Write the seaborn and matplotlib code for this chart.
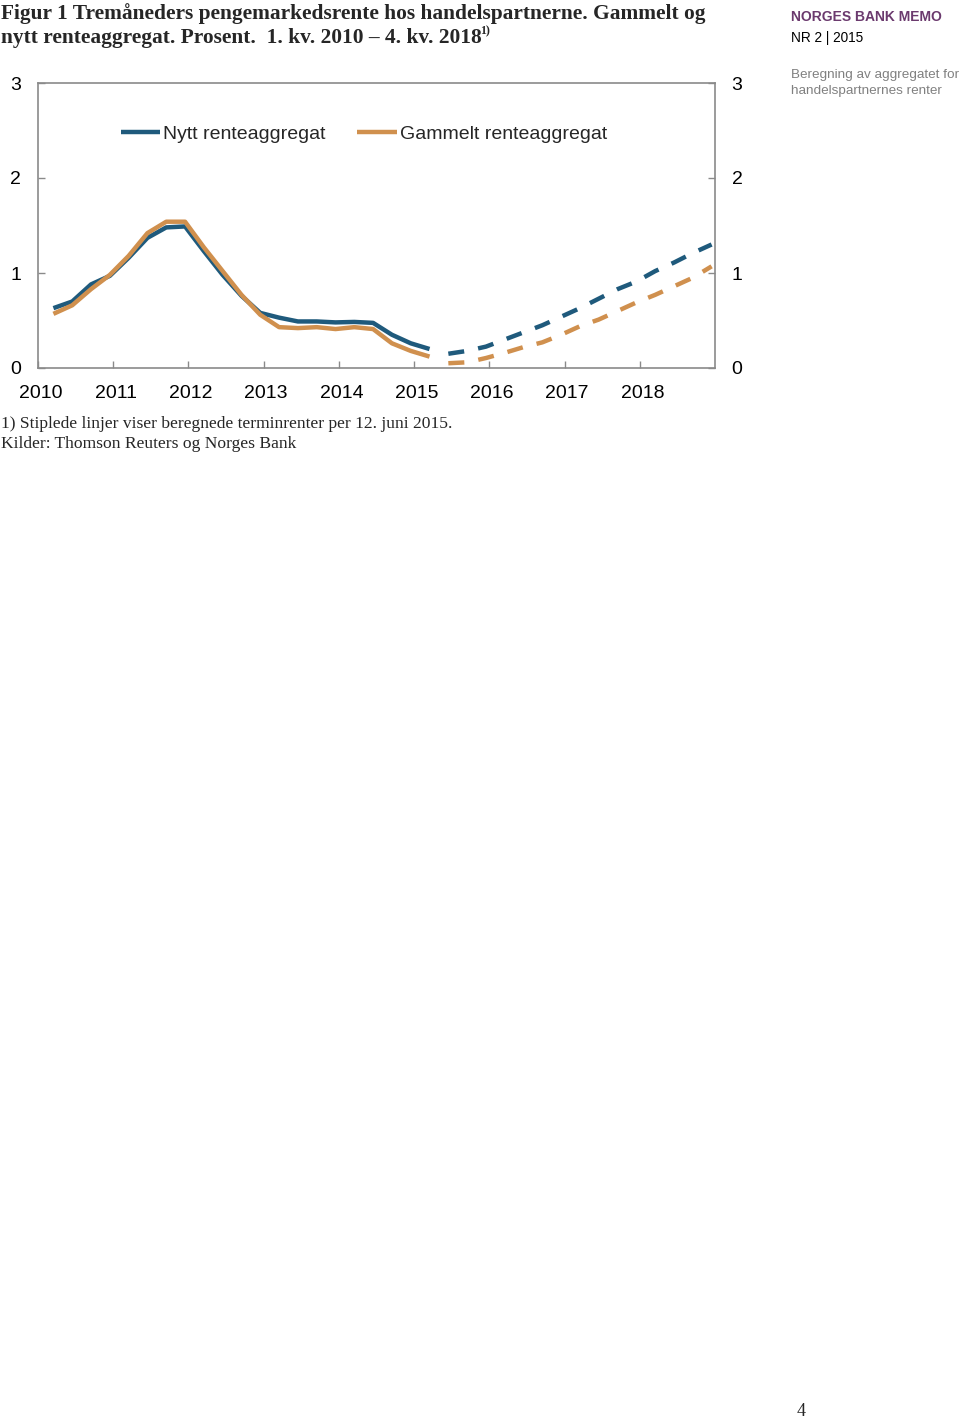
import numpy as np
import pandas as pd
import matplotlib
matplotlib.use("Agg")
import matplotlib.pyplot as plt
import matplotlib.transforms as mtransforms
import seaborn as sns
from matplotlib.lines import Line2D

# ---- data (quarterly, 1. kv. 2010 - 4. kv. 2018) ----
quarters = [f"{y}K{q}" for y in range(2010, 2019) for q in range(1, 5)]
nytt_hist = [0.63, 0.70, 0.88, 0.97, 1.16, 1.37, 1.48, 1.49, 1.23, 0.98, 0.76,
             0.58, 0.53, 0.49, 0.49, 0.48, 0.485, 0.475, 0.35, 0.26, 0.20]
gammelt_hist = [0.57, 0.66, 0.83, 0.98, 1.18, 1.42, 1.54, 1.54, 1.27, 1.02, 0.77,
                0.56, 0.43, 0.42, 0.43, 0.41, 0.43, 0.41, 0.26, 0.18, 0.12]
nytt_fwd = [0.15, 0.18, 0.225, 0.30, 0.375, 0.45, 0.54, 0.63, 0.73, 0.83,
            0.91, 1.02, 1.11, 1.21, 1.30]
gammelt_fwd = [0.05, 0.06, 0.105, 0.16, 0.22, 0.27, 0.35, 0.44, 0.51, 0.60,
               0.69, 0.77, 0.86, 0.95, 1.07]
series_names = ["Nytt renteaggregat", "Gammelt renteaggregat"]
year_ticks = list(range(2010, 2019))
y_ticks = [0, 1, 2, 3]

# ---- tidy frame ----
rows = []
nh = len(nytt_hist)
for name, hist, fwd in [(series_names[0], nytt_hist, nytt_fwd),
                        (series_names[1], gammelt_hist, gammelt_fwd)]:
    for i, v in enumerate(hist + fwd):
        q = quarters[i]
        yr = int(q[:4]); qq = int(q[-1])
        xpos = yr + (qq - 1 + 0.82) / 4.0
        rows.append({"x": xpos, "value": v, "serie": name,
                     "periode": "hist" if i < nh else "fwd"})
df = pd.DataFrame(rows)

blue = "#1f5a7c"
orange = "#d0904e"
palette = {series_names[0]: blue, series_names[1]: orange}

sns.set_theme(style="white")
plt.rcParams["font.family"] = ["Liberation Sans", "DejaVu Sans"]

W, H = 960, 1421
fig = plt.figure(figsize=(W / 100, H / 100), dpi=100)
ax = fig.add_axes([38 / W, (H - 368) / H, 677 / W, 285 / H])

sns.lineplot(data=df, x="x", y="value", hue="serie", style="periode",
             palette=palette, dashes={"hist": "", "fwd": (3.6, 3.2)},
             linewidth=3.2, legend=False, ax=ax, estimator=None, sort=False)
for ln in ax.get_lines():
    ln.set_solid_capstyle("butt")
    ln.set_dash_capstyle("butt")
    ln.set_solid_joinstyle("round")

ax.set_xlim(2010, 2019)
ax.set_ylim(0, 3)
ax.set_xticks(year_ticks)
ax.set_xticklabels([str(y) for y in year_ticks])
ax.set_yticks(y_ticks)
ax.set_yticklabels([str(t) for t in y_ticks])
ax.set_xlabel("")
ax.set_ylabel("")

spine_col = "#8a8a8a"
for s in ax.spines.values():
    s.set_visible(True)
    s.set_color(spine_col)
    s.set_linewidth(1.2)

ax.tick_params(axis="x", direction="in", length=5, color=spine_col, width=1,
               labelsize=14, pad=12, labelcolor="black", bottom=True)
ax.tick_params(axis="y", direction="in", length=5, color=spine_col, width=1,
               labelsize=14, pad=12, labelcolor="black", left=True, right=True,
               labelleft=True, labelright=True)
# nudge x tick labels slightly right as in the reference
off = mtransforms.ScaledTranslation(2.5 / 100, 0, fig.dpi_scale_trans)
for lab in ax.get_xticklabels():
    lab.set_transform(lab.get_transform() + off)

handles = [Line2D([], [], color=blue, lw=3.2, solid_capstyle="butt"),
           Line2D([], [], color=orange, lw=3.2, solid_capstyle="butt")]
ax.legend(handles, series_names, loc="center left", bbox_to_anchor=(0.122, 0.82),
          ncol=2, frameon=False, fontsize=14, handlelength=2.05,
          handletextpad=0.15, columnspacing=1.6, borderpad=0, borderaxespad=0)

# ---- surrounding text ----
serif = ["Liberation Serif", "DejaVu Serif"]
fig.text(1 / W, 1 - 14 / H, "Figur 1 Tremåneders pengemarkedsrente hos handelspartnerne. Gammelt og",
         family=serif, fontweight="bold", fontsize=15.4, va="center", ha="left")
fig.text(1 / W, 1 - 38 / H, "nytt renteaggregat. Prosent.  1. kv. 2010 – 4. kv. 2018",
         family=serif, fontweight="bold", fontsize=15.4, va="center", ha="left")
fig.text(480 / W, 1 - 31 / H, "1)", family=serif, fontweight="bold", fontsize=8.5,
         va="center", ha="left")

fig.text(791 / W, 1 - 17 / H, "NORGES BANK MEMO", color="#6b3a6e",
         fontweight="bold", fontsize=10, va="center", ha="left")
fig.text(791 / W, 1 - 38 / H, "NR 2 | 2015", color="black",
         fontsize=9.8, va="center", ha="left")
fig.text(791 / W, 1 - 75 / H, "Beregning av aggregatet for", color="#808080",
         fontsize=9.7, va="center", ha="left")
fig.text(791 / W, 1 - 91 / H, "handelspartnernes renter", color="#808080",
         fontsize=9.7, va="center", ha="left")

fig.text(1 / W, 1 - 424 / H, "1) Stiplede linjer viser beregnede terminrenter per 12. juni 2015.",
         family=serif, fontsize=12.6, va="center", ha="left")
fig.text(1 / W, 1 - 444 / H, "Kilder: Thomson Reuters og Norges Bank",
         family=serif, fontsize=12.6, va="center", ha="left")
fig.text(801 / W, 1 - 1411 / H, "4", family=serif, fontsize=13, va="center", ha="center")

fig.savefig("out.png", dpi=100, facecolor="white")
